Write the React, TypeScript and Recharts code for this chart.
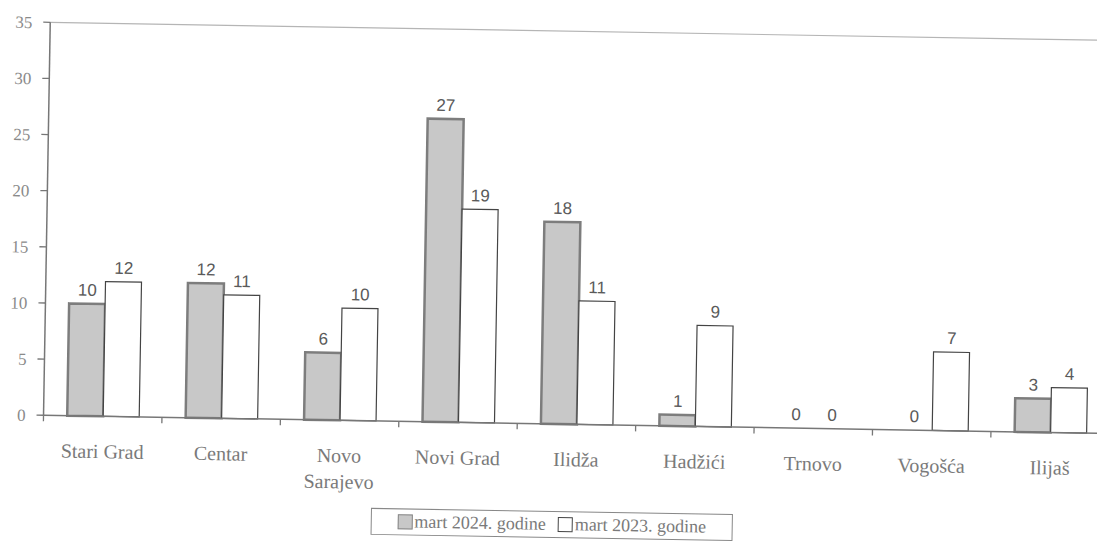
import { BarChart, Bar, XAxis, YAxis, ReferenceLine, LabelList, Cell } from "recharts"

const categories = ["Stari Grad", "Centar", "Novo Sarajevo", "Novi Grad", "Ilidža", "Hadžići", "Trnovo", "Vogošća", "Ilijaš"]
const mart2024 = [10, 12, 6, 27, 18, 1, 0, 0, 3]
const mart2023 = [12, 11, 10, 19, 11, 9, 0, 7, 4]
const yTicks = [0, 5, 10, 15, 20, 25, 30, 35]
const seriesNames = ["mart 2024. godine", "mart 2023. godine"]

const W = 1104
const H = 520
const margin = { top: 23, right: 0, left: 0, bottom: 64 }
const yAxisWidth = 38
const band = (W - margin.left - margin.right - yAxisWidth) / categories.length

const serif = "'Liberation Serif', 'Times New Roman', serif"
const sans = "'Liberation Sans', Arial, sans-serif"

const data = categories.map((name, i) => ({ name, a: mart2024[i], b: mart2023[i] }))

const CatTick = (props: any) => {
    const { x, y, payload, index } = props
    const name: string = payload.value
    const lines = name.length > 11 ? name.split(" ") : [name]
    const left = x - band / 2
    return (
        <g>
            <line x1={left} y1={y} x2={left} y2={y + 6} stroke="#777" strokeWidth={1.3} />
            {index === categories.length - 1 && (
                <line x1={x + band / 2} y1={y} x2={x + band / 2} y2={y + 6} stroke="#777" strokeWidth={1.3} />
            )}
            <text x={x} y={y + 42} textAnchor="middle" fontFamily={serif} fontSize={20} fill="#7a7a7a">
                {lines.map((l, k) => (
                    <tspan key={k} x={x} dy={k === 0 ? 0 : 26}>{l}</tspan>
                ))}
            </text>
        </g>
    )
}

// draws the value above every bar, zero-height bars included
const ValueLabel = (props: any) => {
    const { x, y, width, value } = props
    return (
        <text x={x + width / 2} y={y - 8} textAnchor="middle" fontFamily={sans} fontSize={17} fill="#5a5a5a">
            {value}
        </text>
    )
}

// zero values still need a (flat, unstroked) bar so their label gets placed
const keepZero = (value: any) => (Number(value) === 0 ? 0.01 : 0)

const App = () => {
    return (
        <div style={{ width: 1089, height: 535, overflow: "hidden" }}>
            <div style={{ position: "relative", width: W, height: 535, transform: "rotate(0.98deg)", transformOrigin: "548px 267px" }}>
                <BarChart width={W} height={H} data={data} margin={margin} barCategoryGap="20%" barGap={0}>
                    <ReferenceLine y={35} stroke="#b5b5b5" strokeWidth={1.2} ifOverflow="extendDomain" />
                    <XAxis
                        dataKey="name"
                        interval={0}
                        height={40}
                        tickSize={0}
                        tickMargin={0}
                        axisLine={{ stroke: "#777", strokeWidth: 1.5 }}
                        tick={(p: any) => <CatTick {...p} />}
                    />
                    <YAxis
                        width={yAxisWidth}
                        domain={[0, 35]}
                        ticks={yTicks}
                        interval={0}
                        tickSize={7}
                        tickMargin={11}
                        axisLine={{ stroke: "#777", strokeWidth: 1.5 }}
                        tickLine={{ stroke: "#777", strokeWidth: 1.3 }}
                        tick={{ fontFamily: serif, fontSize: 17, fill: "#8a8a8a" }}
                    />
                    <Bar dataKey="a" name={seriesNames[0]} fill="#c8c8c8" stroke="#7d7d7d" strokeWidth={2.5} minPointSize={keepZero} isAnimationActive={false}>
                        {mart2024.map((v, i) => (
                            <Cell key={i} stroke={v === 0 ? "none" : "#7d7d7d"} fill={v === 0 ? "none" : "#c8c8c8"} />
                        ))}
                        <LabelList dataKey="a" content={ValueLabel} />
                    </Bar>
                    <Bar dataKey="b" name={seriesNames[1]} fill="#ffffff" stroke="#444" strokeWidth={1.2} minPointSize={keepZero} isAnimationActive={false}>
                        {mart2023.map((v, i) => (
                            <Cell key={i} stroke={v === 0 ? "none" : "#444"} fill={v === 0 ? "none" : "#ffffff"} />
                        ))}
                        <LabelList dataKey="b" content={ValueLabel} />
                    </Bar>
                </BarChart>
                <div
                    style={{
                        position: "absolute",
                        left: 367,
                        top: 503,
                        width: 362,
                        height: 27,
                        border: "1px solid #888",
                        display: "flex",
                        alignItems: "center",
                        justifyContent: "center",
                        fontFamily: serif,
                        fontSize: 18,
                        color: "#7a7a7a",
                        boxSizing: "border-box",
                    }}
                >
                    <span style={{ display: "inline-block", width: 13, height: 13, background: "#c8c8c8", border: "1.5px solid #888", marginRight: 2 }} />
                    <span style={{ marginRight: 12 }}>{seriesNames[0]}</span>
                    <span style={{ display: "inline-block", width: 13, height: 13, background: "#fff", border: "1.5px solid #444", marginRight: 2 }} />
                    <span>{seriesNames[1]}</span>
                </div>
            </div>
        </div>
    )
}

export default App
